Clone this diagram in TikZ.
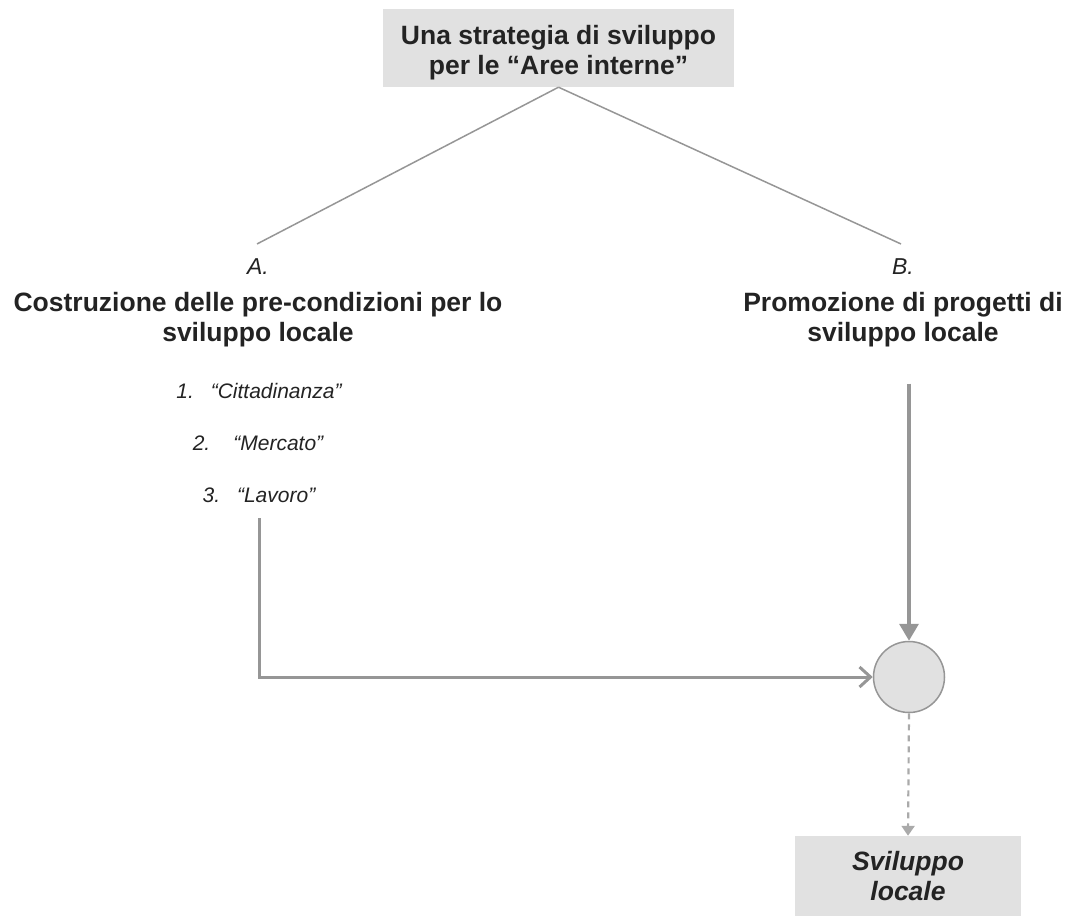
\documentclass[tikz,border=0pt]{standalone}
\usepackage{fontspec}
\setmainfont{Liberation Sans}
\usetikzlibrary{arrows.meta, positioning}
\definecolor{boxgray}{RGB}{225, 225, 225}
\definecolor{linegray}{RGB}{150, 150, 150}
\definecolor{dashgray}{RGB}{170, 170, 170}
\definecolor{inkgray}{RGB}{35, 35, 35}

\begin{document}
\begin{tikzpicture}[
        x=1pt, y=-1pt,
        panel/.style={rectangle, fill=boxgray, inner sep=0pt, align=center, text=inkgray, font=\fontsize{26.5}{29.5}\selectfont\bfseries},
        heading/.style={inner sep=0pt, align=center, anchor=base, text=inkgray, font=\fontsize{26.5}{29.5}\selectfont\bfseries},
        letter/.style={inner sep=0pt, anchor=base, text=inkgray, font=\fontsize{23}{26}\selectfont\itshape},
        item/.style={inner sep=0pt, anchor=base, text=inkgray, font=\fontsize{21}{24}\selectfont\itshape},
        hub/.style={circle, fill=boxgray, draw=linegray, line width=1.5pt, minimum size=71pt, inner sep=0pt},
        branch/.style={draw=linegray, line width=1.5pt},
        flow/.style={draw=linegray, line width=3pt, -{Straight Barb[length=11pt, width=20pt, line width=3pt]}},
        feed/.style={draw=linegray, line width=3.5pt, -{Triangle[length=17pt, width=19pt]}},
        result/.style={draw=dashgray, line width=2.2pt, dash pattern=on 6pt off 5pt, -{Triangle[length=10pt, width=13pt]}}
    ]
        \useasboundingbox (0,0) rectangle (1068,916);

        % Top
        \node (strategy) [panel, minimum width=351pt, minimum height=78pt] at (558.5,48) {\rule{0pt}{28pt}Una strategia di sviluppo\\per le “Aree interne”};

        % Branch A
        \node (letterA) [letter] at (258,274) {A.};
        \node (titleA) [heading] at (258,341) {Costruzione delle pre-condizioni per lo\\sviluppo locale};
        \node (item1) [item] at (259,398) {1.\hspace{0.8em}“Cittadinanza”};
        \node (item2) [item] at (258,450) {2.\hspace{1.1em}“Mercato”};
        \node (item3) [item] at (259,502) {3.\hspace{0.8em}“Lavoro”};

        % Branch B
        \node (letterB) [letter] at (903,274) {B.};
        \node (titleB) [heading] at (903,341) {Promozione di progetti di\\sviluppo locale};

        % Bottom
        \node (hub) [hub] at (909,677) {};
        \node (outcome) [panel, minimum width=226pt, minimum height=80pt] at (908,876) {\itshape Sviluppo\\\itshape locale};

        % Connecting lines
        \draw [branch] (strategy.south) -- ([xshift=-1pt, yshift=14pt]letterA.north);
        \draw [branch] (strategy.south) -- ([xshift=-2pt, yshift=14pt]letterB.north);
        \draw [flow] ([yshift=-16pt]item3.south) |- (hub.west);
        \draw [feed] ([yshift=-37pt]titleB.south -| hub.north) -- (hub.north);
        \draw [result] (hub.south) -- (outcome.north);
    \end{tikzpicture}
\end{document}
